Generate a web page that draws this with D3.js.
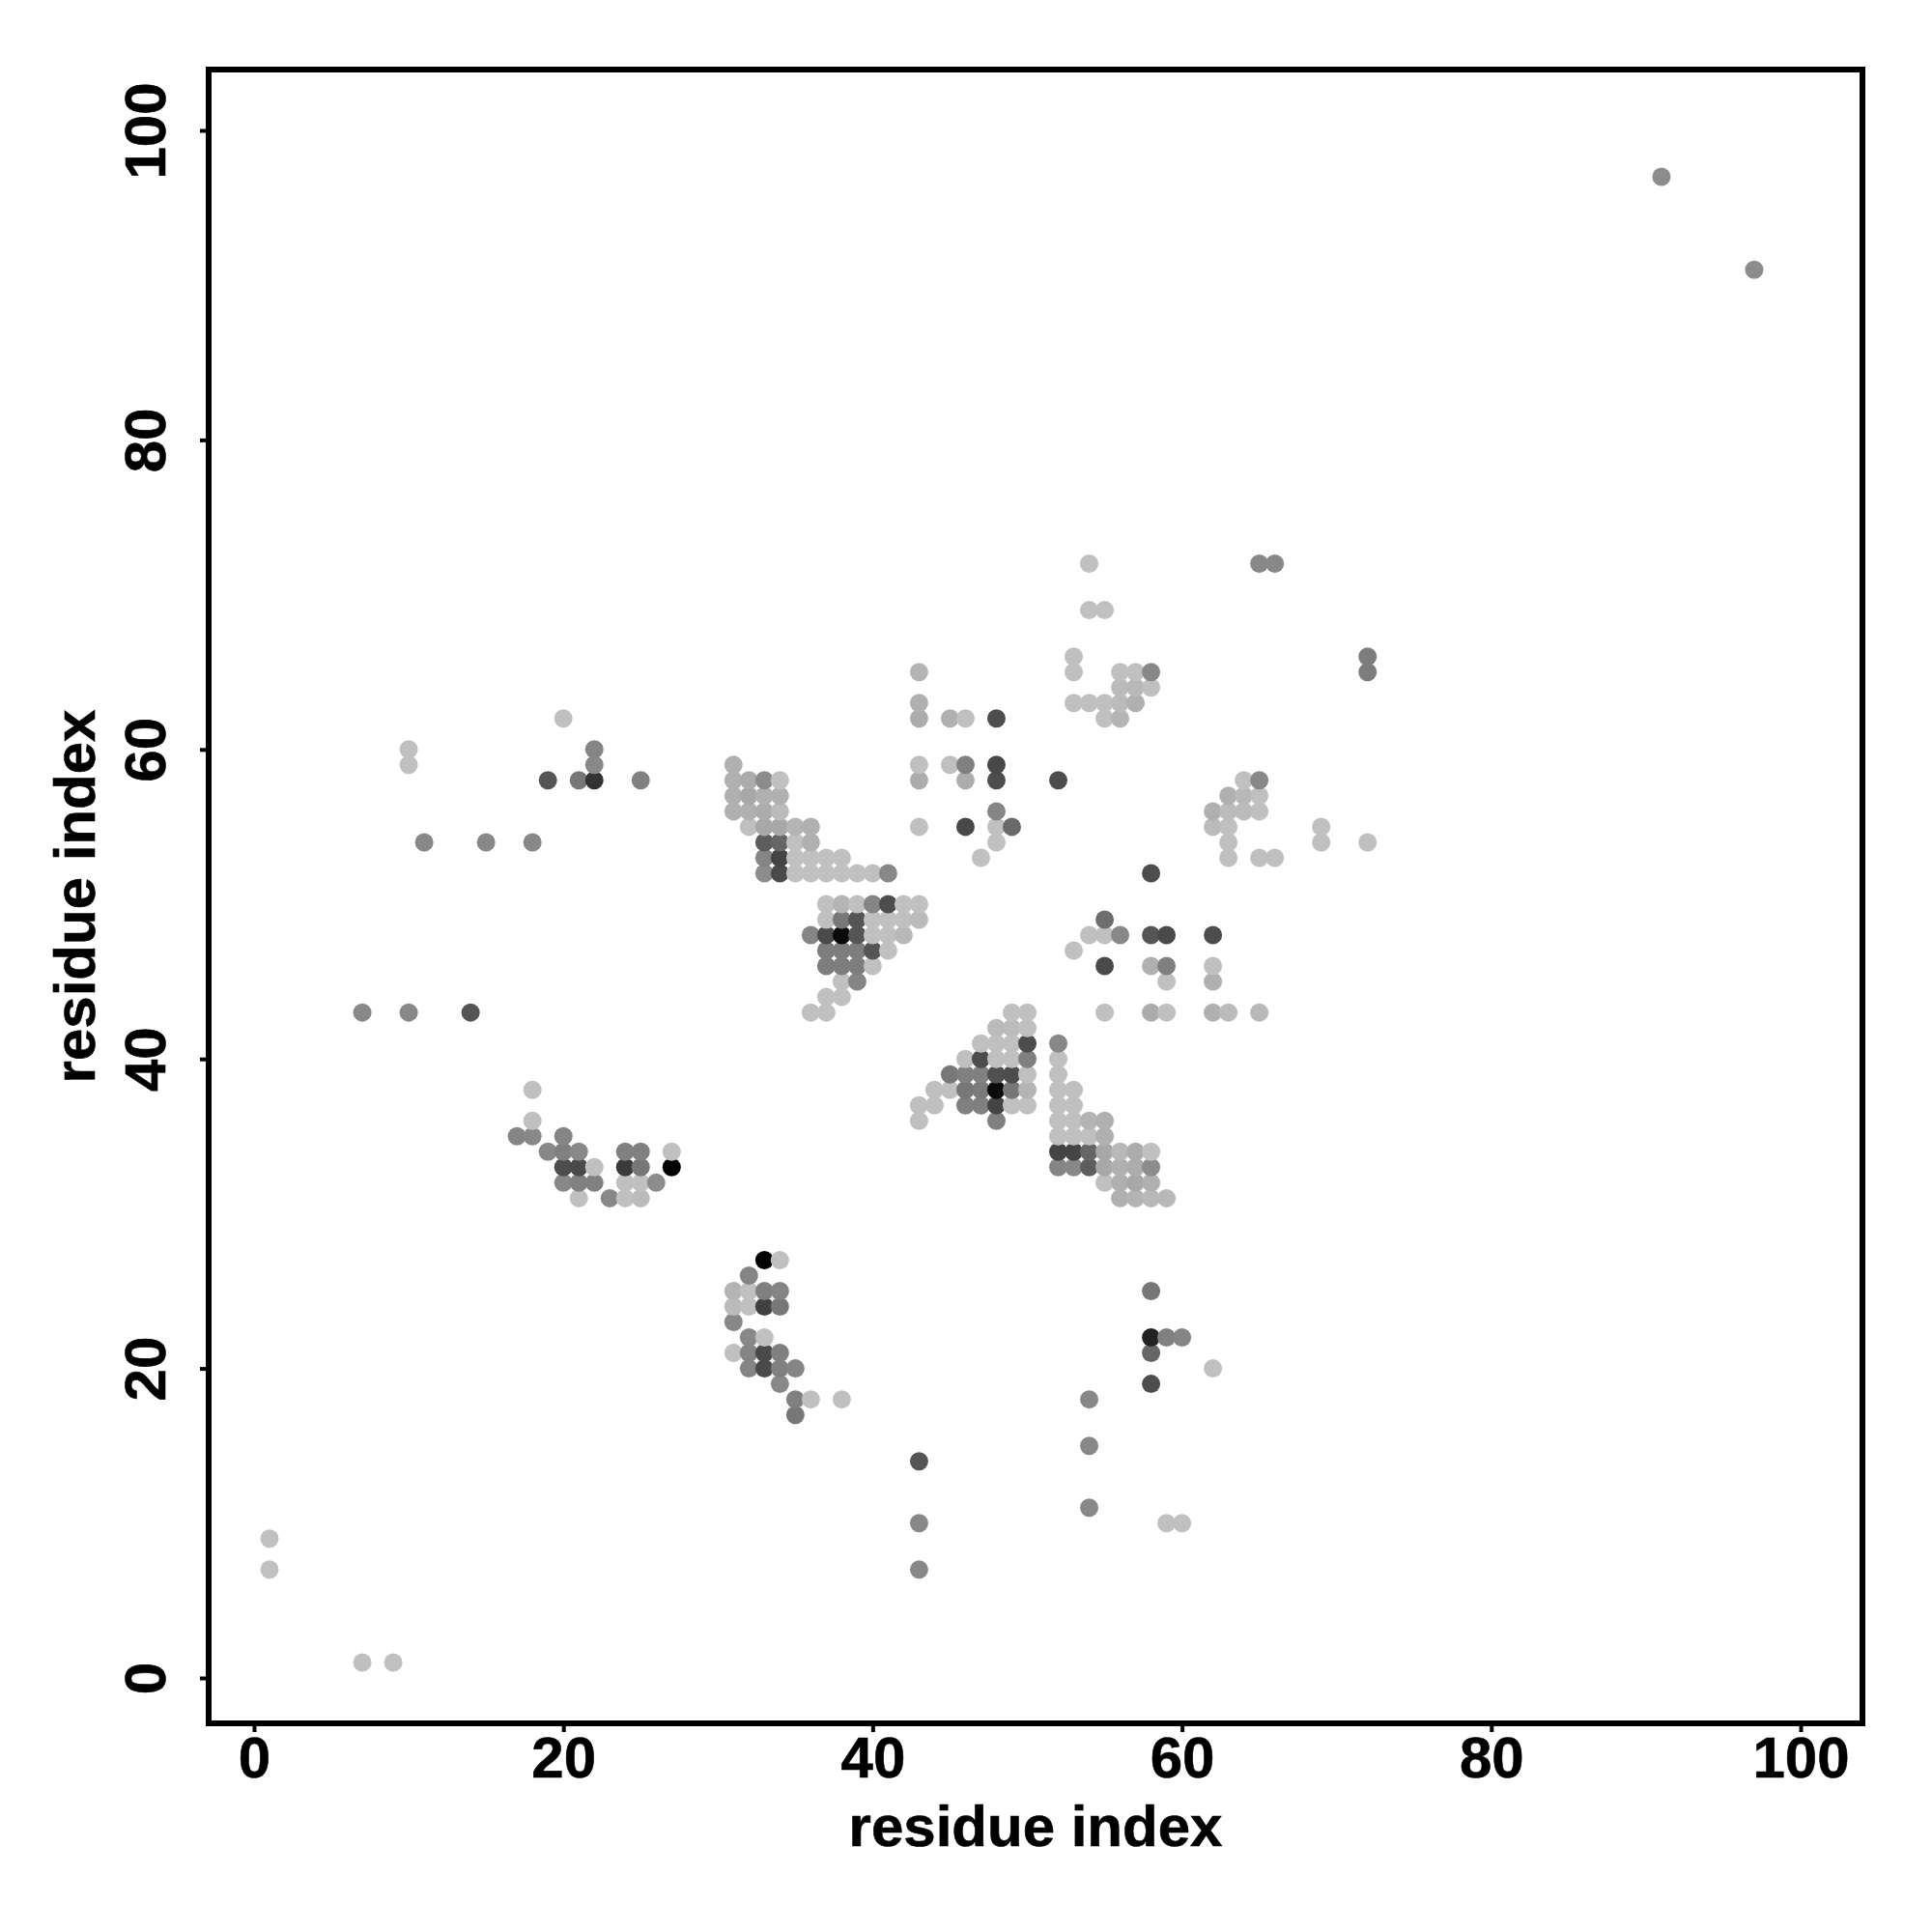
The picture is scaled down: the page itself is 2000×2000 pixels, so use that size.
<!DOCTYPE html>
<html>
<head>
<meta charset="utf-8">
<script src="https://cdn.jsdelivr.net/npm/d3@7"></script>
<style>
html,body{margin:0;padding:0;background:#fff}
svg{display:block}
text{font-family:"Liberation Sans",Arial,sans-serif;font-weight:bold;fill:#000;stroke:#000;stroke-width:0.6px}
</style>
</head>
<body>
<svg id="chart" width="2000" height="2000"></svg>
<script>
const tickValues = [0,20,40,60,80,100];
const xTitle = "residue index";
const yTitle = "residue index";

const columnX = [1,7,9,10,11,14,15,17,18,19,20,21,22,23,24,25,26,27,31,32,33,34,35,36,37,38,39,40,41,42,43,44,45,46,47,48,49,50,52,53,54,55,56,57,58,59,60,62,63,64,65,66,69,72,91,97];

const columnY = [
[7,9],
[1,43],
[1],
[43,59,60],
[54],
[43],
[54],
[35],
[35,36,38,54],
[34,58],
[32,33,34,35,62],
[31,32,33,34,58],
[32,33,58,59,60],
[31],
[31,32,33,34],
[31,32,33,34,58],
[32],
[33,34],
[21,23,24,25,56,57,58,59],
[20,21,22,24,25,26,55,56,57,58],
[20,21,22,24,25,27,52,53,54,55,56,57,58],
[19,20,21,24,25,27,52,53,54,55,56,57,58],
[17,18,20,52,53,54,55],
[18,43,48,52,53,54,55],
[43,44,46,47,48,49,50,52,53],
[18,44,45,46,47,48,49,50,52,53],
[45,46,47,48,49,50,52],
[46,47,48,49,50,52],
[47,48,49,50,52],
[48,49,50],
[7,10,14,36,37,49,50,55,58,59,62,63,65],
[37,38],
[38,39,59,62],
[37,38,39,40,55,58,59,62],
[37,38,39,40,41,53],
[36,37,38,39,40,41,42,54,55,56,58,59,62],
[37,38,39,40,41,42,43,55],
[37,38,39,40,41,42,43],
[33,34,35,36,37,38,39,40,41,58],
[33,34,35,36,37,38,47,63,65,66],
[11,15,18,33,34,35,36,48,63,69,72],
[32,33,34,35,36,43,46,48,49,62,63,69],
[31,32,33,34,48,62,63,64,65],
[31,32,33,34,63,64,65],
[19,21,22,25,31,32,33,34,43,46,48,52,64,65],
[10,22,31,43,45,46,48],
[10,22],
[20,43,45,46,48,55,56],
[43,53,54,55,56,57],
[56,57,58],
[43,53,56,57,58,72],
[53,72],
[54,55],
[54,65,66],
[97],
[91]
];

const columnGrey = [
[192,192],
[192,136],
[192],
[136,192,192],
[136],
[85],
[136],
[133],
[136,192,192,136],
[136,85],
[136,77,128,133,192],
[192,128,74,136,119],
[128,192,51,136,133],
[136],
[192,192,58,128],
[187,192,119,128,128],
[140],
[0,192],
[192,136,187,180,176,176,176,176],
[133,133,136,192,192,133,192,176,168,172],
[74,74,192,64,128,0,140,133,93,168,172,176,140],
[136,128,128,119,133,192,74,68,102,168,187,176,192],
[119,128,133,192,192,192,180],
[192,192,133,192,192,176,176],
[192,192,125,125,74,192,192,192,192],
[192,192,192,125,125,10,120,180,192,192],
[133,125,125,85,85,192,192],
[192,85,192,192,133,192],
[192,192,192,77,136],
[184,192,192],
[136,136,85,192,192,187,192,192,172,192,172,176,180],
[192,192],
[192,119,192,176],
[128,119,128,192,72,172,128,192],
[128,122,128,77,192,192],
[128,68,10,80,192,192,187,192,192,133,77,72,77],
[192,119,77,192,192,187,192,106],
[192,180,192,128,77,192,192],
[133,68,192,192,192,192,192,192,136,77],
[136,68,192,192,192,192,192,192,192,192],
[136,136,136,93,102,192,180,192,192,192,192],
[192,168,168,176,176,192,74,192,110,192,192,192],
[176,176,176,184,136,180,187,187,192],
[180,168,172,172,176,184,192],
[77,102,34,119,184,176,140,192,172,176,85,77,192,136],
[192,128,184,192,192,128,74],
[192,133],
[192,176,176,192,77,187,176],
[187,192,192,192,187,176],
[187,184,192],
[184,192,192,192,136,136],
[192,136],
[192,192],
[192,125,125],
[140],
[140]
];

const points = columnX.flatMap((cx,c) => columnY[c].map((cy,r) => ({x:cx, y:cy, grey:columnGrey[c][r]})));

const svg = d3.select("#chart");
const x = d3.scaleLinear().domain([0,100]).range([263,1864]);
const y = d3.scaleLinear().domain([0,100]).range([1737,135]);

svg.append("g").selectAll("circle").data(points).join("circle")
  .attr("cx", d => x(d.x))
  .attr("cy", d => y(d.y))
  .attr("r", 9.5)
  .attr("fill", d => d3.rgb(d.grey,d.grey,d.grey).formatHex());

const xAxis = svg.append("g").attr("transform","translate(0,1784)")
  .call(d3.axisBottom(x).tickValues(tickValues).tickSize(9).tickPadding(3));
const yAxis = svg.append("g").attr("transform","translate(216,0)")
  .call(d3.axisLeft(y).tickValues(tickValues).tickSize(9).tickPadding(3));
[xAxis,yAxis].forEach(a=>{
  a.select(".domain").remove();
  a.selectAll("line").attr("stroke","#000").attr("stroke-width",4);
  a.selectAll("text").attr("font-size",60).attr("fill","#000");
});
xAxis.selectAll("text").attr("dy",null).attr("y",null)
  .attr("transform","translate(0,56)").attr("text-anchor","middle");
yAxis.selectAll("text").attr("dy",null).attr("x",null)
  .attr("text-anchor","middle")
  .attr("transform","translate(-45,0) rotate(-90)");

svg.append("rect").attr("x",216).attr("y",72).attr("width",1712).attr("height",1712)
  .attr("fill","none").attr("stroke","#000").attr("stroke-width",6);

svg.append("text").attr("x",1072).attr("y",1911).attr("text-anchor","middle").attr("font-size",60).text(xTitle);
svg.append("text").attr("transform","translate(98,928) rotate(-90)").attr("text-anchor","middle").attr("font-size",60).text(yTitle);
</script>
</body>
</html>
